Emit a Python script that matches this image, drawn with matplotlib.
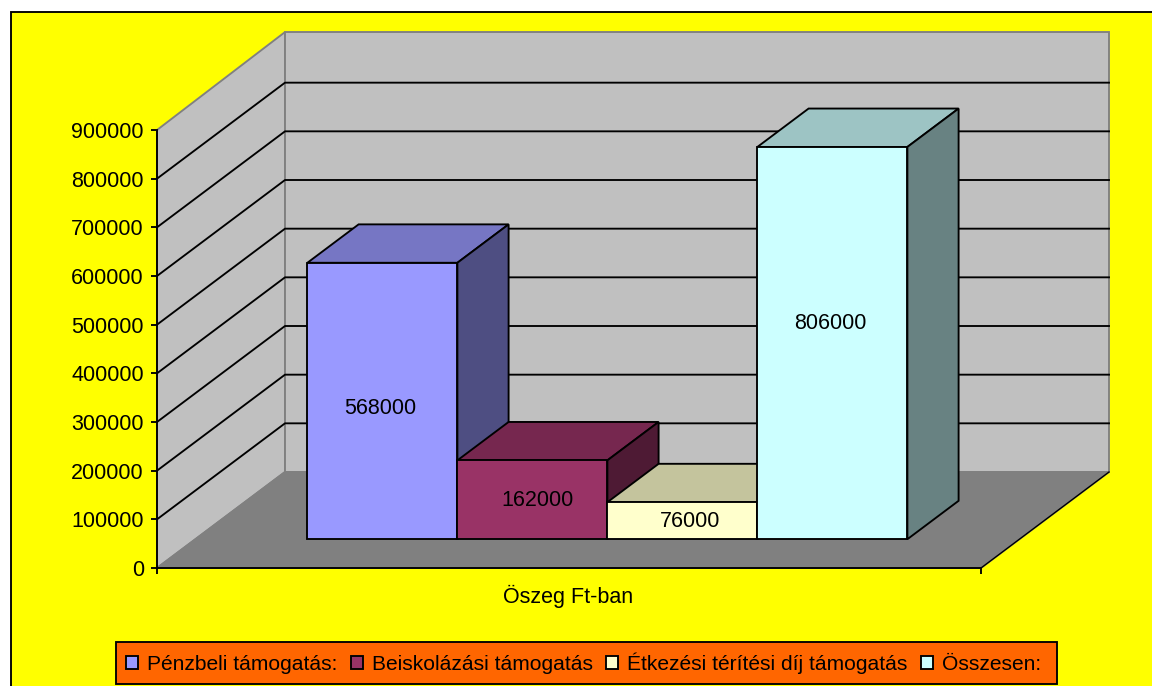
import matplotlib
matplotlib.use('Agg')
import matplotlib.pyplot as plt
from matplotlib.patches import Patch, Polygon, Rectangle

plt.rcParams['font.family'] = ['Liberation Sans', 'DejaVu Sans']

# adatok
categories = ['Pénzbeli támogatás:', 'Beiskolázási támogatás', 'Étkezési térítési díj támogatás', 'Összesen:']
values = [568000, 162000, 76000, 806000]
y_ticks = [0, 100000, 200000, 300000, 400000, 500000, 600000, 700000, 800000, 900000]
x_label = 'Öszeg Ft-ban'

# styles
colors = ['#9999FF', '#993366', '#FFFFCC', '#CCFFFF']
W, H = 1152, 686
LW = 1.35
FS = 15.5


def shade(c, f):
    rgb = matplotlib.colors.to_rgb(c)
    return tuple(v * f for v in rgb)


fig = plt.figure(figsize=(W / 100, H / 100), dpi=100, facecolor='white')
# chart area, runs off the right and bottom edges like the original
fig.add_artist(Rectangle((10.5 / W, -0.02), 1.1, 1.02 - 11.5 / H, transform=fig.transFigure,
                         facecolor='#FFFF00', edgecolor='black', linewidth=LW, zorder=-1))
# legend box
fig.add_artist(Rectangle((116 / W, (H - 684) / H), 941 / W, 42 / H, transform=fig.transFigure,
                         facecolor='#FF6600', edgecolor='black', linewidth=LW, zorder=-0.5))

ax = fig.add_axes([157 / W, (H - 568) / H, 824 / W, 438 / H])
ax.set_xlim(0, 1)
ax.set_ylim(0, 900000)
ax.patch.set_visible(False)

# 3d projection: z=0 front plane, z=1 back wall
dx = 128 / 824
dy = 96 / 438 * 900000


def pr(x, y, z):
    return (x + z * dx, y + z * dy)


def poly(pts, fc, ec, lw=LW, zorder=2):
    ax.add_patch(Polygon([pr(*p) for p in pts], closed=True, facecolor=fc, edgecolor=ec,
                         linewidth=lw, clip_on=False, zorder=zorder, joinstyle='miter'))


ymax = y_ticks[-1]
wall_top = ymax + 4000
# walls and floor
poly([(0, 0, 0), (0, 0, 1), (0, wall_top, 1), (0, ymax, 0)], '#C0C0C0', '#808080')
poly([(0, 0, 1), (1, 0, 1), (1, wall_top, 1), (0, wall_top, 1)], '#C0C0C0', '#808080')
poly([(0, 0, 0), (1, 0, 0), (1, 0, 1), (0, 0, 1)], '#808080', '#808080')
ax.plot(*zip(pr(1, 0, 0), pr(1, 0, 1)), color='black', lw=1.0, clip_on=False, zorder=2)

# gridlines on side wall and back wall
for t in y_ticks[1:-1]:
    ax.plot(*zip(pr(0, t, 0), pr(0, t, 1), pr(1, t, 1)), color='black', lw=LW, clip_on=False, zorder=2)

# bars
bar_w = 150 / 824
start = (1 - len(values) * bar_w) / 2
z0, z1 = 0.30, 0.70
label_shift = [(-2, -8), (5, -1), (8, -1), (-2, 20)]
for i, v in enumerate(values):
    x0 = start + i * bar_w
    x1 = x0 + bar_w
    c = colors[i]
    zo = 3 + i
    poly([(x0, v, z0), (x1, v, z0), (x1, v, z1), (x0, v, z1)], shade(c, 0.77), 'black', zorder=zo)
    poly([(x1, 0, z0), (x1, 0, z1), (x1, v, z1), (x1, v, z0)], shade(c, 0.51), 'black', zorder=zo)
    poly([(x0, 0, z0), (x1, 0, z0), (x1, v, z0), (x0, v, z0)], c, 'black', zorder=zo)
    ax.annotate(str(v), pr((x0 + x1) / 2, v / 2, z0), xytext=label_shift[i], textcoords='offset pixels',
                ha='center', va='center', fontsize=FS, color='black', zorder=10)

# axes
for s in ['top', 'right']:
    ax.spines[s].set_visible(False)
for s in ['left', 'bottom']:
    ax.spines[s].set_linewidth(LW)
    ax.spines[s].set_zorder(2.5)
ax.set_yticks(y_ticks)
ax.set_yticklabels([str(t) for t in y_ticks], fontsize=FS)
ax.set_xticks([0, 1])
ax.set_xticklabels(['', ''])
ax.tick_params(axis='both', length=4.5, width=LW, color='black', pad=5)
ax.annotate(x_label, (0.5, 0), xycoords='axes fraction', xytext=(-1, -28), textcoords='offset pixels',
            ha='center', va='center', fontsize=FS)

# legend
handles = [Patch(facecolor=c, edgecolor='black', linewidth=LW) for c in colors]
leg = fig.legend(handles, categories, ncol=4, loc='center', bbox_to_anchor=(583.5 / W, (H - 663) / H),
                 fontsize=15.1, frameon=False, handlelength=0.57, handleheight=0.57, handletextpad=0.43,
                 columnspacing=0.65, borderpad=0.5, borderaxespad=0)

fig.savefig('out.png', dpi=100)
